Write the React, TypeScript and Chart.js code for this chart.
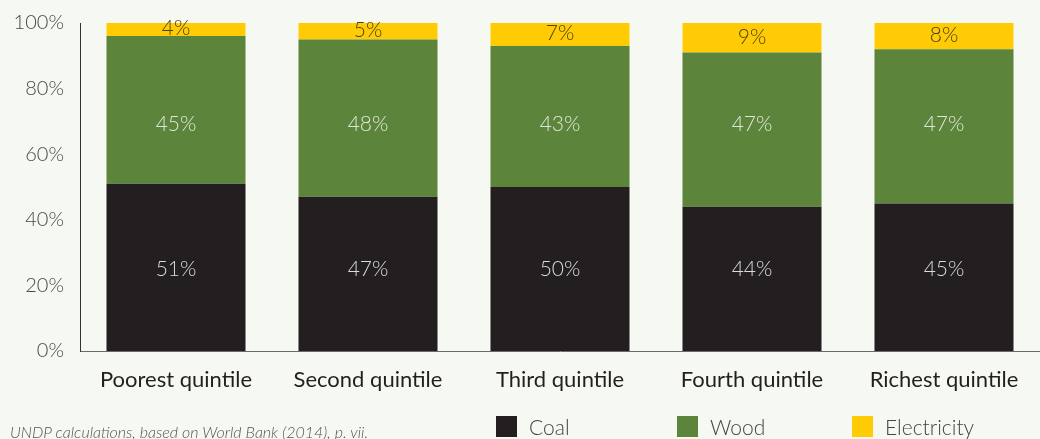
import React, { useEffect, useRef } from "react";
import { Chart, registerables } from "chart.js";

Chart.register(...registerables);

// ---- Data ----
const categories = [
  "Poorest quintile",
  "Second quintile",
  "Third quintile",
  "Fourth quintile",
  "Richest quintile",
];
const coal = [51, 47, 50, 44, 45];
const wood = [45, 48, 43, 47, 47];
const electricity = [4, 5, 7, 9, 8];
const seriesNames = ["Coal", "Wood", "Electricity"];
const yMin = 0;
const yMax = 100;
const yStep = 20;
const sourceNote = "UNDP calculations, based on World Bank (2014), p. vii.";

// ---- Styles ----
const BG = "#f6f8f2";
const COLORS = ["#231f20", "#5d843b", "#ffcb05"];
const LABEL_COLORS = ["#d9ddd6", "#dfe6d8", "#4f4310"];
// value on the y scale at which a series' labels sit (null = segment centre)
const LABEL_ANCHOR: (number | null)[] = [25, 69, null];
const FONT = "Lato, 'Open Sans', sans-serif";
const LEGEND_WIDTHS = [181, 175, 150];

const segmentLabels = {
  id: "segmentLabels",
  afterDatasetsDraw(chart: any) {
    const ctx = chart.ctx;
    const yScale = chart.scales.y;
    ctx.save();
    ctx.font = `300 21px ${FONT}`;
    ctx.textAlign = "center";
    ctx.textBaseline = "middle";
    chart.data.datasets.forEach((ds: any, i: number) => {
      const meta = chart.getDatasetMeta(i);
      ctx.fillStyle = LABEL_COLORS[i];
      meta.data.forEach((bar: any, j: number) => {
        const p = bar.getProps(["x", "y", "base"], true);
        const anchor = LABEL_ANCHOR[i];
        const y = anchor != null ? yScale.getPixelForValue(anchor) : (p.y + p.base) / 2 - 1;
        ctx.fillText(`${ds.data[j]}%`, p.x, y);
      });
    });
    ctx.restore();
  },
};

export default function App() {
  const ref = useRef<HTMLCanvasElement | null>(null);

  useEffect(() => {
    if (!ref.current) return;
    const series = [coal, wood, electricity];
    const chart = new Chart(ref.current, {
      type: "bar",
      data: {
        labels: categories,
        datasets: series.map((d, i) => ({
          label: seriesNames[i],
          data: d,
          backgroundColor: COLORS[i],
          borderWidth: 0,
          barPercentage: 0.724,
          categoryPercentage: 1,
        })),
      },
      options: {
        responsive: false,
        animation: false,
        events: [],
        layout: { padding: { top: 23, left: 0, right: 0, bottom: 0 } },
        plugins: {
          legend: { display: false },
          tooltip: { enabled: false },
          title: { display: false },
        },
        scales: {
          x: {
            stacked: true,
            offset: true,
            grid: { display: false, drawTicks: false },
            border: { display: true, color: "#6a6a6a", width: 1 },
            ticks: {
              color: "#231f20",
              font: { family: FONT, size: 22, weight: "400" },
              padding: 16,
              maxRotation: 0,
              autoSkip: false,
            },
            afterFit(scale: any) {
              scale.height = 88;
              scale.paddingLeft = 0;
              scale.paddingRight = 0;
            },
          },
          y: {
            stacked: true,
            min: yMin,
            max: yMax,
            grid: { display: false, drawTicks: false },
            border: { display: true, color: "#333333", width: 1 },
            ticks: {
              stepSize: yStep,
              color: "#4a4a4a",
              font: { family: FONT, size: 20, weight: "300" },
              padding: 16,
              callback: (v: any) => `${v}%`,
            },
            afterFit(scale: any) {
              scale.width = 80;
              scale.paddingTop = 0;
              scale.paddingBottom = 0;
            },
          },
        },
      },
      plugins: [segmentLabels],
    });
    return () => chart.destroy();
  }, []);

  return (
    <div
      style={{
        position: "fixed",
        left: 0,
        top: 0,
        width: 1040,
        height: 439,
        background: BG,
        overflow: "hidden",
      }}
    >
      <canvas ref={ref} width={1040} height={439} style={{ display: "block" }} />
      <div
        style={{
          position: "absolute",
          left: 10,
          top: 422,
          fontFamily: FONT,
          fontStyle: "italic",
          fontWeight: 300,
          fontSize: 16,
          color: "#555555",
          whiteSpace: "nowrap",
        }}
      >
        {sourceNote}
      </div>
      <div
        style={{
          position: "absolute",
          left: 496,
          top: 416,
          display: "flex",
          fontFamily: FONT,
          fontWeight: 300,
          fontSize: 21,
          color: "#444444",
          whiteSpace: "nowrap",
        }}
      >
        {seriesNames.map((name, i) => (
          <div key={name} style={{ display: "flex", alignItems: "flex-start", width: LEGEND_WIDTHS[i] }}>
            <span
              style={{
                display: "inline-block",
                width: 21,
                height: 21,
                background: COLORS[i],
                marginRight: 12,
              }}
            />
            <span style={{ lineHeight: "24px", marginTop: -1 }}>{name}</span>
          </div>
        ))}
      </div>
    </div>
  );
}
